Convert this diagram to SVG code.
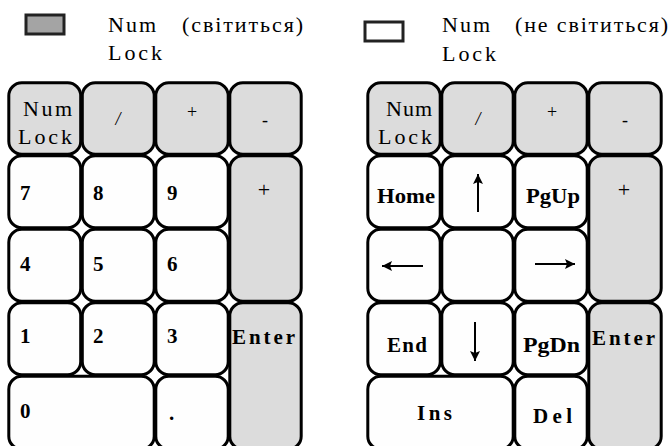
<svg xmlns="http://www.w3.org/2000/svg" width="669" height="446" viewBox="0 0 669 446">
<defs>
<style>
.k{stroke:#000;stroke-width:3;fill:#fefefe}
.g{fill:#dcdcdc}
.t{font-family:"Liberation Serif","Times New Roman",serif;font-size:22px;fill:#000}
.b{font-family:"Liberation Serif","Times New Roman",serif;font-size:21px;font-weight:bold;fill:#000}
.s{font-family:"Liberation Serif","Times New Roman",serif;font-size:18px;fill:#000}
.ar{stroke:#000;stroke-width:2;fill:none}
.lg{stroke:#222;stroke-width:3}
</style>
<marker id="ah" viewBox="0 0 10 10" refX="10" refY="5" markerWidth="11" markerHeight="10" orient="auto" markerUnits="userSpaceOnUse"><path d="M0,0 L10,5 L0,10 L2,5 z" fill="#000"/></marker>
</defs>
<rect width="669" height="446" fill="#fff"/>
<g id="legend-on">
<rect class="lg" x="26" y="15" width="38" height="19" fill="#a4a4a4"/>
<text class="t" x="108" y="32" textLength="48" lengthAdjust="spacing">Num</text>
<text class="t" x="182" y="32" textLength="121" lengthAdjust="spacing">(світиться)</text>
<text class="t" x="108" y="60" textLength="54" lengthAdjust="spacing">Lock</text>
</g>
<g id="legend-off">
<rect class="lg" x="365" y="22" width="38" height="19" fill="#fff"/>
<text class="t" x="442" y="32" textLength="48" lengthAdjust="spacing">Num</text>
<text class="t" x="515" y="32" textLength="153" lengthAdjust="spacing">(не світиться)</text>
<text class="t" x="442" y="61" textLength="54" lengthAdjust="spacing">Lock</text>
</g>
<g id="left-pad">
<g id="L-numlock"><rect class="k g" x="8.8" y="82.8" width="71.9" height="71.4" rx="13"/><text class="t" x="23" y="116" textLength="49" lengthAdjust="spacing">Num</text><text class="t" x="18" y="144" textLength="54" lengthAdjust="spacing">Lock</text></g>
<g id="L-div"><rect class="k g" x="82.3" y="82.8" width="71.9" height="71.4" rx="13"/><text class="s" x="118" y="125" text-anchor="middle" font-style="italic">/</text></g>
<g id="L-mul"><rect class="k g" x="155.8" y="82.8" width="72.4" height="71.4" rx="13"/><text class="s" x="192" y="118" text-anchor="middle">+</text></g>
<g id="L-minus"><rect class="k g" x="229.8" y="82.8" width="71.4" height="71.4" rx="13"/><text class="s" x="265" y="126" text-anchor="middle">-</text></g>
<g id="L-7"><rect class="k" x="8.8" y="155.8" width="71.9" height="71.9" rx="13"/><text class="b" x="20" y="200">7</text></g>
<g id="L-8"><rect class="k" x="82.3" y="155.8" width="71.9" height="71.9" rx="13"/><text class="b" x="93" y="200">8</text></g>
<g id="L-9"><rect class="k" x="155.8" y="155.8" width="72.4" height="71.9" rx="13"/><text class="b" x="167" y="200">9</text></g>
<g id="L-plus"><rect class="k g" x="229.8" y="155.8" width="71.4" height="145.4" rx="13"/><text class="t" x="264" y="197" text-anchor="middle">+</text></g>
<g id="L-4"><rect class="k" x="8.8" y="229.3" width="71.9" height="71.9" rx="13"/><text class="b" x="20" y="271">4</text></g>
<g id="L-5"><rect class="k" x="82.3" y="229.3" width="71.9" height="71.9" rx="13"/><text class="b" x="93" y="271">5</text></g>
<g id="L-6"><rect class="k" x="155.8" y="229.3" width="72.4" height="71.9" rx="13"/><text class="b" x="167" y="271">6</text></g>
<g id="L-1"><rect class="k" x="8.8" y="302.8" width="71.9" height="71.9" rx="13"/><text class="b" x="20" y="343">1</text></g>
<g id="L-2"><rect class="k" x="82.3" y="302.8" width="71.9" height="71.9" rx="13"/><text class="b" x="93" y="343">2</text></g>
<g id="L-3"><rect class="k" x="155.8" y="302.8" width="72.4" height="71.9" rx="13"/><text class="b" x="167" y="343">3</text></g>
<g id="L-enter"><rect class="k g" x="229.8" y="302.8" width="71.4" height="146.4" rx="13"/><text class="b" x="232" y="344" textLength="63" lengthAdjust="spacing">Enter</text></g>
<g id="L-0"><rect class="k" x="8.8" y="376.3" width="145.4" height="72.9" rx="13"/><text class="b" x="20" y="418">0</text></g>
<g id="L-dot"><rect class="k" x="155.8" y="376.3" width="72.4" height="72.9" rx="13"/><text class="b" x="169" y="420">.</text></g>
</g>
<g id="right-pad">
<g id="R-numlock"><rect class="k g" x="367.8" y="82.8" width="72.4" height="71.4" rx="13"/><text class="t" x="386" y="116" textLength="46" lengthAdjust="spacing">Num</text><text class="t" x="378" y="144" textLength="54" lengthAdjust="spacing">Lock</text></g>
<g id="R-div"><rect class="k g" x="441.8" y="82.8" width="71.4" height="71.4" rx="13"/><text class="s" x="478" y="125" text-anchor="middle" font-style="italic">/</text></g>
<g id="R-mul"><rect class="k g" x="514.8" y="82.8" width="72.4" height="71.4" rx="13"/><text class="s" x="552" y="118" text-anchor="middle">+</text></g>
<g id="R-minus"><rect class="k g" x="588.8" y="82.8" width="72.4" height="71.4" rx="13"/><text class="s" x="625" y="126" text-anchor="middle">-</text></g>
<g id="R-home"><rect class="k" x="367.8" y="155.8" width="72.4" height="71.9" rx="13"/><text class="b" x="377" y="203" textLength="58" lengthAdjust="spacingAndGlyphs">Home</text></g>
<g id="R-up"><rect class="k" x="441.8" y="155.8" width="71.4" height="71.9" rx="13"/></g>
<g id="R-pgup"><rect class="k" x="514.8" y="155.8" width="72.4" height="71.9" rx="13"/><text class="b" x="526" y="203" textLength="54" lengthAdjust="spacingAndGlyphs">PgUp</text></g>
<g id="R-plus"><rect class="k g" x="588.8" y="155.8" width="72.4" height="145.4" rx="13"/><text class="t" x="624" y="197" text-anchor="middle">+</text></g>
<g id="R-left"><rect class="k" x="367.8" y="229.3" width="72.4" height="71.9" rx="13"/></g>
<g id="R-five"><rect class="k" x="441.8" y="229.3" width="71.4" height="71.9" rx="13"/></g>
<g id="R-right"><rect class="k" x="514.8" y="229.3" width="72.4" height="71.9" rx="13"/></g>
<g id="R-end"><rect class="k" x="367.8" y="302.8" width="72.4" height="71.9" rx="13"/><text class="b" x="387" y="352" textLength="40" lengthAdjust="spacing">End</text></g>
<g id="R-down"><rect class="k" x="441.8" y="302.8" width="71.4" height="71.9" rx="13"/></g>
<g id="R-pgdn"><rect class="k" x="514.8" y="302.8" width="72.4" height="71.9" rx="13"/><text class="b" x="523" y="352" textLength="57" lengthAdjust="spacingAndGlyphs">PgDn</text></g>
<g id="R-enter"><rect class="k g" x="588.8" y="302.8" width="72.4" height="146.4" rx="13"/><text class="b" x="592" y="345" textLength="63" lengthAdjust="spacing">Enter</text></g>
<g id="R-ins"><rect class="k" x="367.8" y="376.3" width="145.4" height="72.9" rx="13"/><text class="b" x="417" y="420" textLength="35" lengthAdjust="spacing">Ins</text></g>
<g id="R-del"><rect class="k" x="514.8" y="376.3" width="72.4" height="72.9" rx="13"/><text class="b" x="533" y="423" textLength="39" lengthAdjust="spacing">Del</text></g>
</g>
<g id="connectors">
<line class="ar" x1="478" y1="212" x2="478" y2="174" marker-end="url(#ah)"/>
<line class="ar" x1="423" y1="266" x2="382" y2="266" marker-end="url(#ah)"/>
<line class="ar" x1="535" y1="264" x2="575" y2="264" marker-end="url(#ah)"/>
<line class="ar" x1="475" y1="322" x2="475" y2="361" marker-end="url(#ah)"/>
</g>
</svg>
